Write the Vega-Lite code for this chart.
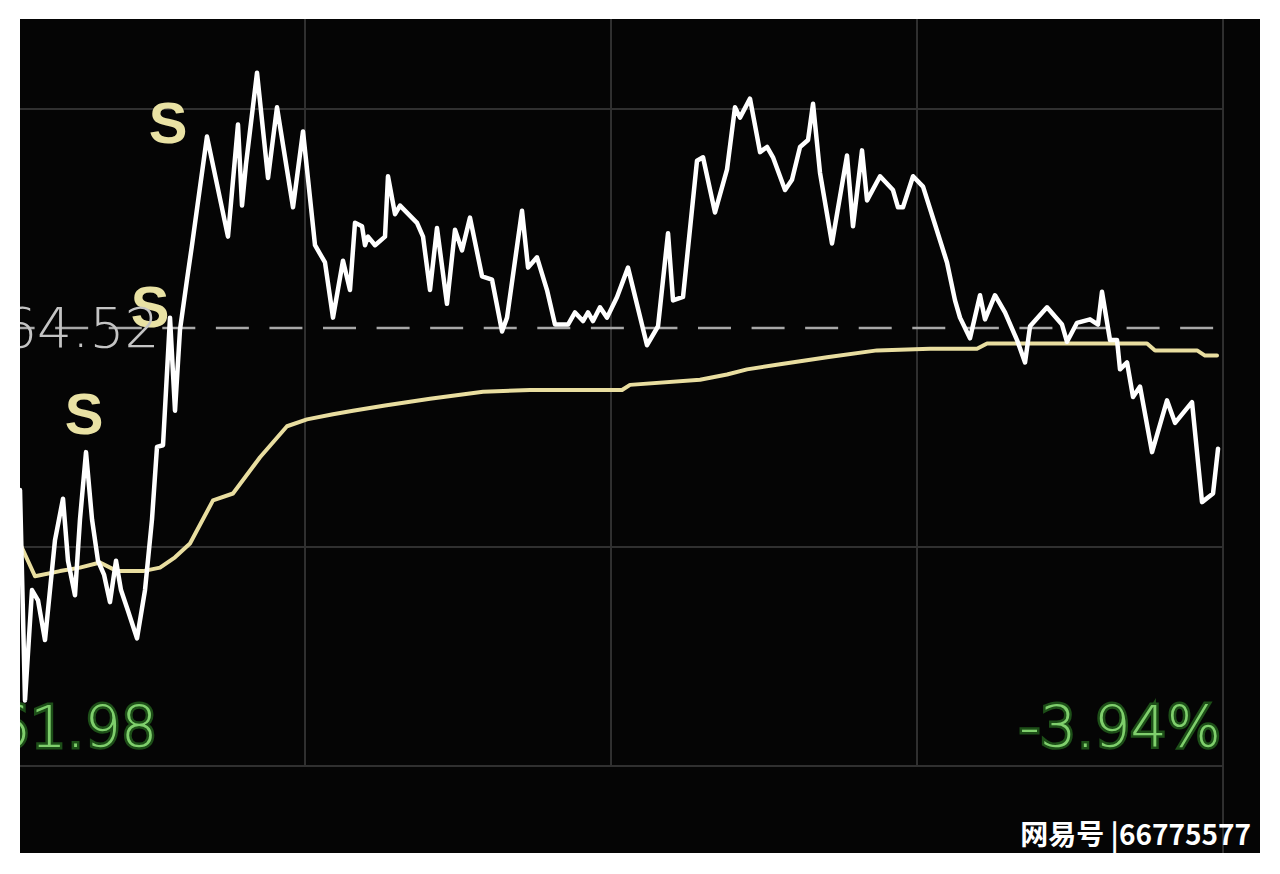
{
  "$schema": "https://vega.github.io/schema/vega-lite/v6.json",
  "width": 1280,
  "height": 874,
  "autosize": {"type": "fit", "contains": "padding"},
  "padding": {"left": 20, "top": 19, "right": 20, "bottom": 21},
  "background": "#ffffff",
  "config": {"view": {"fill": "#050505", "stroke": null}},
  "datasets": {
    "price": [
      {"m":4.12,"p":63.58},{"m":5.10,"p":62.36},{"m":6.47,"p":63.00},{"m":7.65,"p":62.94},{"m":9.02,"p":62.71},
      {"m":10.98,"p":63.29},{"m":12.55,"p":63.53},{"m":13.53,"p":63.17},{"m":14.90,"p":62.97},{"m":15.88,"p":63.41},
      {"m":17.06,"p":63.80},{"m":18.24,"p":63.41},{"m":19.41,"p":63.17},{"m":20.59,"p":63.09},{"m":21.76,"p":62.93},
      {"m":22.94,"p":63.17},{"m":23.92,"p":63.00},{"m":25.29,"p":62.88},{"m":27.06,"p":62.72},{"m":28.63,"p":63.00},
      {"m":30.00,"p":63.41},{"m":30.98,"p":63.83},{"m":32.16,"p":63.84},{"m":33.53,"p":64.58},{"m":34.51,"p":64.04},
      {"m":35.49,"p":64.51},{"m":36.86,"p":64.80},{"m":37.84,"p":65.00},{"m":40.78,"p":65.63},{"m":44.90,"p":65.05},
      {"m":46.86,"p":65.70},{"m":47.65,"p":65.23},{"m":48.43,"p":65.47},{"m":50.59,"p":66.00},{"m":52.75,"p":65.39},
      {"m":54.51,"p":65.80},{"m":57.65,"p":65.22},{"m":59.61,"p":65.66},{"m":61.96,"p":65.00},{"m":63.92,"p":64.90},
      {"m":65.49,"p":64.58},{"m":67.45,"p":64.91},{"m":68.82,"p":64.74},{"m":69.80,"p":65.13},{"m":71.18,"p":65.11},
      {"m":71.76,"p":65.00},{"m":72.35,"p":65.05},{"m":73.73,"p":65.00},{"m":75.69,"p":65.05},{"m":76.27,"p":65.40},
      {"m":77.65,"p":65.18},{"m":78.63,"p":65.23},{"m":81.96,"p":65.13},{"m":83.14,"p":65.05},{"m":84.51,"p":64.74},
      {"m":85.88,"p":65.10},{"m":87.84,"p":64.66},{"m":89.41,"p":65.09},{"m":90.78,"p":64.97},{"m":92.35,"p":65.16},
      {"m":94.71,"p":64.82},{"m":96.67,"p":64.80},{"m":98.63,"p":64.50},{"m":99.61,"p":64.58},{"m":102.55,"p":65.20},
      {"m":103.73,"p":64.87},{"m":105.49,"p":64.93},{"m":107.45,"p":64.74},{"m":109.02,"p":64.54},{"m":111.57,"p":64.54},
      {"m":112.94,"p":64.61},{"m":114.51,"p":64.56},{"m":115.49,"p":64.61},{"m":116.47,"p":64.56},{"m":117.84,"p":64.64},
      {"m":119.22,"p":64.58},{"m":121.18,"p":64.70},{"m":123.33,"p":64.87},{"m":127.06,"p":64.42},{"m":129.22,"p":64.53},
      {"m":131.18,"p":65.07},{"m":132.16,"p":64.68},{"m":134.12,"p":64.70},{"m":136.86,"p":65.49},{"m":138.04,"p":65.51},
      {"m":140.39,"p":65.19},{"m":142.75,"p":65.44},{"m":144.31,"p":65.80},{"m":145.29,"p":65.74},{"m":147.25,"p":65.85},
      {"m":149.22,"p":65.54},{"m":150.59,"p":65.57},{"m":151.76,"p":65.51},{"m":154.12,"p":65.32},{"m":155.49,"p":65.38},
      {"m":157.06,"p":65.57},{"m":158.63,"p":65.61},{"m":159.61,"p":65.82},{"m":160.98,"p":65.42},{"m":163.33,"p":65.01},
      {"m":166.27,"p":65.52},{"m":167.45,"p":65.11},{"m":169.22,"p":65.55},{"m":170.20,"p":65.26},{"m":172.75,"p":65.40},
      {"m":175.29,"p":65.32},{"m":176.27,"p":65.22},{"m":177.25,"p":65.22},{"m":179.22,"p":65.40},{"m":181.18,"p":65.34},
      {"m":183.53,"p":65.12},{"m":185.88,"p":64.90},{"m":187.45,"p":64.68},{"m":188.43,"p":64.58},{"m":190.39,"p":64.46},
      {"m":192.35,"p":64.71},{"m":193.33,"p":64.57},{"m":195.29,"p":64.71},{"m":197.25,"p":64.61},{"m":199.61,"p":64.45},
      {"m":201.18,"p":64.32},{"m":202.16,"p":64.53},{"m":205.49,"p":64.64},{"m":208.43,"p":64.54},{"m":209.41,"p":64.44},
      {"m":211.37,"p":64.55},{"m":213.92,"p":64.57},{"m":215.49,"p":64.54},{"m":216.27,"p":64.73},{"m":217.84,"p":64.45},
      {"m":219.22,"p":64.45},{"m":219.80,"p":64.28},{"m":221.18,"p":64.32},{"m":222.35,"p":64.12},{"m":223.73,"p":64.18},
      {"m":226.08,"p":63.80},{"m":229.02,"p":64.10},{"m":230.59,"p":63.97},{"m":233.92,"p":64.09},{"m":235.88,"p":63.51},
      {"m":238.04,"p":63.56},{"m":239.02,"p":63.82}
    ],
    "avg": [
      {"m":4.12,"p":63.27},{"m":7.06,"p":63.08},{"m":11.96,"p":63.11},{"m":15.88,"p":63.13},{"m":19.80,"p":63.16},
      {"m":23.14,"p":63.11},{"m":28.24,"p":63.11},{"m":31.57,"p":63.13},{"m":34.51,"p":63.19},{"m":37.45,"p":63.27},
      {"m":41.96,"p":63.52},{"m":45.88,"p":63.56},{"m":51.18,"p":63.77},{"m":56.47,"p":63.95},{"m":60.39,"p":63.99},
      {"m":65.49,"p":64.02},{"m":69.41,"p":64.04},{"m":75.69,"p":64.07},{"m":84.51,"p":64.11},{"m":94.90,"p":64.15},
      {"m":104.12,"p":64.16},{"m":122.16,"p":64.16},{"m":123.73,"p":64.19},{"m":137.45,"p":64.22},{"m":142.75,"p":64.25},
      {"m":146.67,"p":64.28},{"m":153.14,"p":64.31},{"m":162.35,"p":64.35},{"m":172.16,"p":64.39},{"m":182.55,"p":64.40},
      {"m":191.76,"p":64.40},{"m":193.73,"p":64.43},{"m":225.10,"p":64.43},{"m":226.67,"p":64.39},{"m":234.90,"p":64.39},
      {"m":236.47,"p":64.36},{"m":238.82,"p":64.36}
    ],
    "grid": [
      {"m1":60,"m2":60,"p1":61.98,"p2":67.06},
      {"m1":120,"m2":120,"p1":61.98,"p2":67.06},
      {"m1":180,"m2":180,"p1":61.98,"p2":67.06},
      {"m1":240,"m2":240,"p1":61.0,"p2":67.06},
      {"m1":0,"m2":240,"p1":65.79,"p2":65.79},
      {"m1":0,"m2":240,"p1":63.25,"p2":63.25},
      {"m1":0,"m2":240,"p1":61.98,"p2":61.98}
    ],
    "ref": [{"m1":0,"m2":240,"p":64.52}],
    "marks": [
      {"m":33.14,"p":65.71,"t":"S"},
      {"m":29.61,"p":64.64,"t":"S"},
      {"m":16.67,"p":64.02,"t":"S"}
    ],
    "refLabel": [{"m":0.59,"p":64.52,"t":"64.52"}],
    "lowLabel": [{"m":-0.98,"p":61.98,"t":"61.98"}],
    "pctLabel": [{"m":239.6,"p":61.98,"t":"-3.94%"}],
    "wm": [{"m":245.5,"p":61.52,"t":"网易号 |66775577"}]
  },
  "layer": [
    {
      "data": {"name": "grid"},
      "mark": {"type": "rule", "color": "#303030", "strokeWidth": 2, "clip": true},
      "encoding": {
        "x": {"field": "m1", "type": "quantitative", "scale": {"domain": [4.118, 247.25], "nice": false, "zero": false}, "axis": null},
        "x2": {"field": "m2"},
        "y": {"field": "p1", "type": "quantitative", "scale": {"domain": [61.475, 66.312], "nice": false, "zero": false}, "axis": null},
        "y2": {"field": "p2"}
      }
    },
    {
      "data": {"name": "ref"},
      "mark": {"type": "rule", "color": "#a8a8a8", "strokeWidth": 2.5, "strokeDash": [33, 20.57], "strokeDashOffset": -2.6, "clip": true},
      "encoding": {
        "x": {"field": "m1", "type": "quantitative", "scale": {"domain": [4.118, 247.25], "nice": false, "zero": false}, "axis": null},
        "x2": {"field": "m2"},
        "y": {"field": "p", "type": "quantitative", "scale": {"domain": [61.475, 66.312], "nice": false, "zero": false}, "axis": null}
      }
    },
    {
      "data": {"name": "avg"},
      "mark": {"type": "line", "color": "#e9dea0", "strokeWidth": 4, "strokeJoin": "round", "strokeCap": "round", "clip": true},
      "encoding": {
        "x": {"field": "m", "type": "quantitative", "scale": {"domain": [4.118, 247.25], "nice": false, "zero": false}, "axis": null},
        "y": {"field": "p", "type": "quantitative", "scale": {"domain": [61.475, 66.312], "nice": false, "zero": false}, "axis": null}
      }
    },
    {
      "data": {"name": "price"},
      "mark": {"type": "line", "color": "#ffffff", "strokeWidth": 4.5, "strokeJoin": "round", "strokeCap": "round", "clip": true},
      "encoding": {
        "x": {"field": "m", "type": "quantitative", "scale": {"domain": [4.118, 247.25], "nice": false, "zero": false}, "axis": null},
        "y": {"field": "p", "type": "quantitative", "scale": {"domain": [61.475, 66.312], "nice": false, "zero": false}, "axis": null}
      }
    },
    {
      "data": {"name": "marks"},
      "mark": {"type": "text", "color": "#e9e2a4", "font": "Liberation Sans", "fontWeight": "bold", "fontSize": 58, "align": "center", "baseline": "middle", "dy": 3, "clip": true},
      "encoding": {
        "x": {"field": "m", "type": "quantitative", "scale": {"domain": [4.118, 247.25], "nice": false, "zero": false}, "axis": null},
        "y": {"field": "p", "type": "quantitative", "scale": {"domain": [61.475, 66.312], "nice": false, "zero": false}, "axis": null},
        "text": {"field": "t"}
      }
    },
    {
      "data": {"name": "refLabel"},
      "mark": {"type": "text", "color": "#c4c4c4", "font": "DejaVu Sans", "fontWeight": 200, "fontSize": 55, "align": "left", "baseline": "middle", "dy": 2, "clip": true},
      "encoding": {
        "x": {"field": "m", "type": "quantitative", "scale": {"domain": [4.118, 247.25], "nice": false, "zero": false}, "axis": null},
        "y": {"field": "p", "type": "quantitative", "scale": {"domain": [61.475, 66.312], "nice": false, "zero": false}, "axis": null},
        "text": {"field": "t"}
      }
    },
    {
      "data": {"name": "lowLabel"},
      "mark": {"type": "text", "fill": "#1d4f18", "stroke": "#1d4f18", "strokeWidth": 5, "font": "DejaVu Sans", "fontWeight": 200, "fontSize": 57, "align": "left", "baseline": "alphabetic", "dy": -19, "clip": true},
      "encoding": {
        "x": {"field": "m", "type": "quantitative", "scale": {"domain": [4.118, 247.25], "nice": false, "zero": false}, "axis": null},
        "y": {"field": "p", "type": "quantitative", "scale": {"domain": [61.475, 66.312], "nice": false, "zero": false}, "axis": null},
        "text": {"field": "t"}
      }
    },
    {
      "data": {"name": "lowLabel"},
      "mark": {"type": "text", "color": "#7fcf6c", "font": "DejaVu Sans", "fontWeight": 200, "fontSize": 57, "align": "left", "baseline": "alphabetic", "dy": -19, "clip": true},
      "encoding": {
        "x": {"field": "m", "type": "quantitative", "scale": {"domain": [4.118, 247.25], "nice": false, "zero": false}, "axis": null},
        "y": {"field": "p", "type": "quantitative", "scale": {"domain": [61.475, 66.312], "nice": false, "zero": false}, "axis": null},
        "text": {"field": "t"}
      }
    },
    {
      "data": {"name": "pctLabel"},
      "mark": {"type": "text", "fill": "#1d4f18", "stroke": "#1d4f18", "strokeWidth": 5, "font": "DejaVu Sans", "fontWeight": 200, "fontSize": 57, "align": "right", "baseline": "alphabetic", "dy": -19, "clip": true},
      "encoding": {
        "x": {"field": "m", "type": "quantitative", "scale": {"domain": [4.118, 247.25], "nice": false, "zero": false}, "axis": null},
        "y": {"field": "p", "type": "quantitative", "scale": {"domain": [61.475, 66.312], "nice": false, "zero": false}, "axis": null},
        "text": {"field": "t"}
      }
    },
    {
      "data": {"name": "pctLabel"},
      "mark": {"type": "text", "color": "#7fcf6c", "font": "DejaVu Sans", "fontWeight": 200, "fontSize": 57, "align": "right", "baseline": "alphabetic", "dy": -19, "clip": true},
      "encoding": {
        "x": {"field": "m", "type": "quantitative", "scale": {"domain": [4.118, 247.25], "nice": false, "zero": false}, "axis": null},
        "y": {"field": "p", "type": "quantitative", "scale": {"domain": [61.475, 66.312], "nice": false, "zero": false}, "axis": null},
        "text": {"field": "t"}
      }
    },
    {
      "data": {"name": "wm"},
      "mark": {"type": "text", "color": "#ffffff", "font": "Noto Sans CJK SC", "fontWeight": "bold", "fontSize": 28, "align": "right", "baseline": "alphabetic", "clip": true},
      "encoding": {
        "x": {"field": "m", "type": "quantitative", "scale": {"domain": [4.118, 247.25], "nice": false, "zero": false}, "axis": null},
        "y": {"field": "p", "type": "quantitative", "scale": {"domain": [61.475, 66.312], "nice": false, "zero": false}, "axis": null},
        "text": {"field": "t"}
      }
    }
  ]
}
